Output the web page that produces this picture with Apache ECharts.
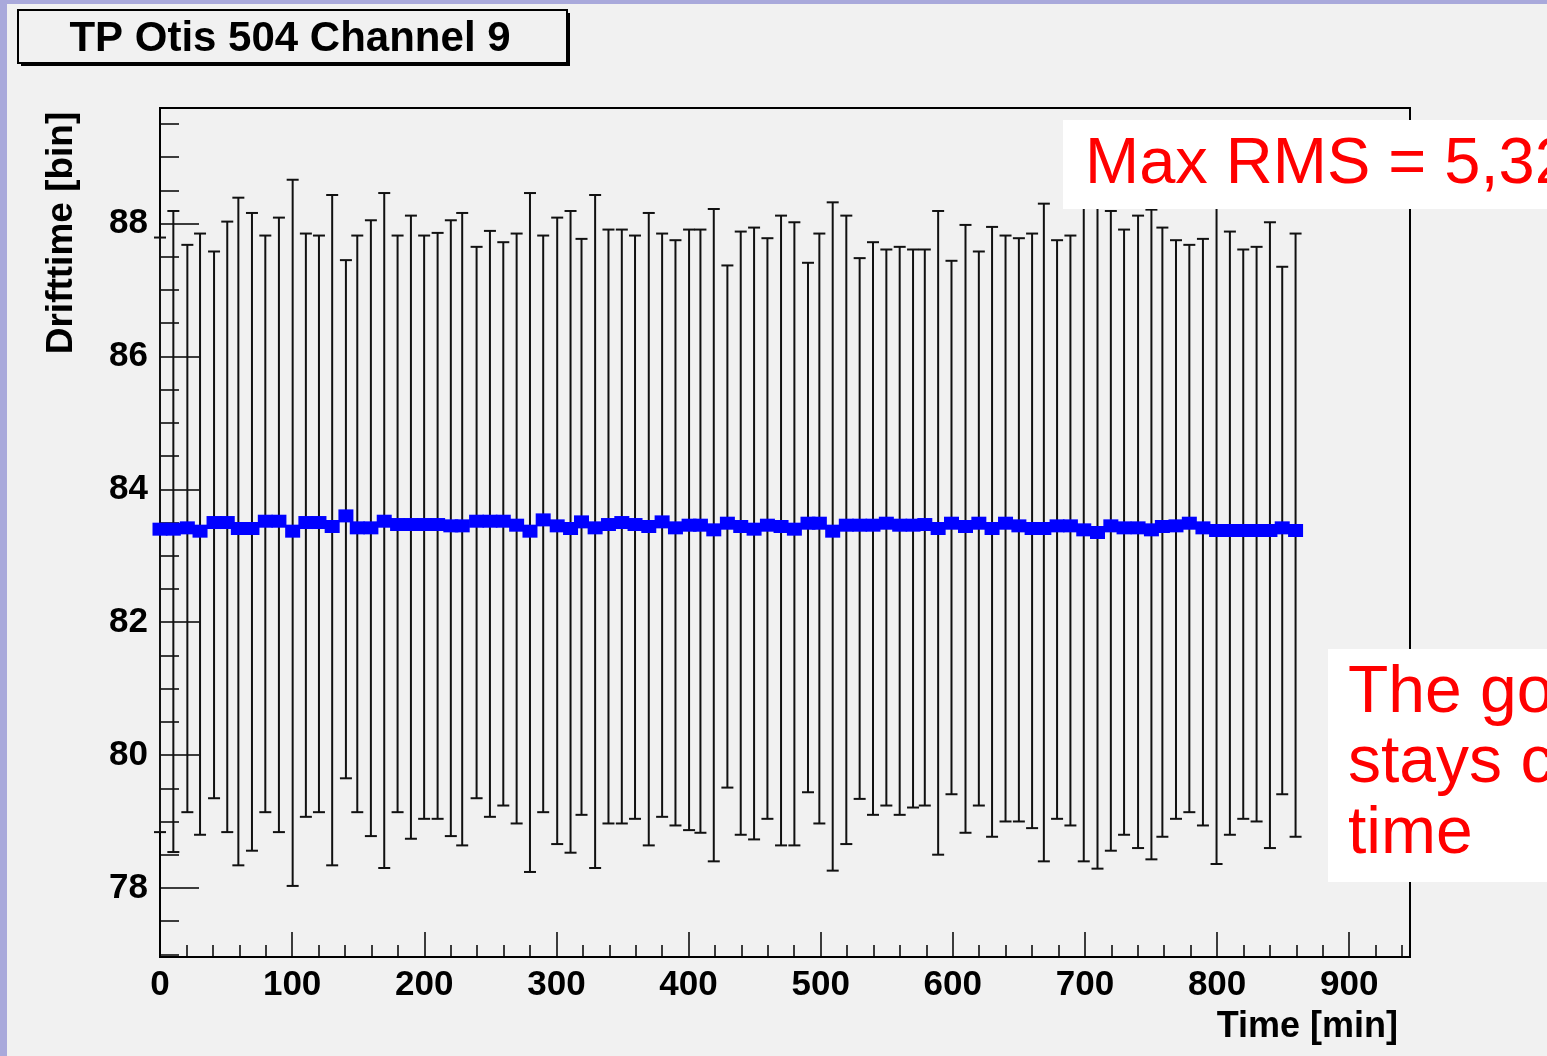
<!DOCTYPE html>
<html lang="en">
<head>
    <meta charset="UTF-8">
    <title>TP Otis 504 Channel 9</title>
    <style>
        html, body { margin: 0; padding: 0; background: #f1f1f1; }
    </style>
</head>
<body>
    <div id="container" style="width: 1547px;height: 1056px"></div>
<script src="https://cdn.jsdelivr.net/npm/echarts@6/dist/echarts.min.js"></script>
<script>
// time of each measurement [min]
var times = [0, 10.1, 20.7, 30.3, 40.9, 50.9, 59.3, 69.6, 79.7, 90.0, 100.4, 110.4, 120.3, 130.3, 140.7, 149.3, 159.6, 169.7, 179.8, 189.9,
    199.9, 210.1, 220.1, 228.7, 239.6, 249.7, 259.8, 269.9, 280.0, 290.0, 300.6, 310.7, 319.0, 329.3, 339.4, 349.5, 359.5, 369.9, 380.0, 390.1,
    400.4, 409.0, 419.1, 429.4, 439.5, 449.6, 459.7, 470.0, 480.1, 490.4, 499.0, 509.1, 519.4, 529.5, 539.6, 549.7, 559.8, 569.9, 578.8, 588.9,
    599.0, 609.6, 619.7, 629.7, 639.9, 650.0, 660.0, 668.9, 678.9, 689.0, 699.1, 709.5, 719.6, 729.6, 740.2, 750.3, 758.6, 768.9, 779.0, 789.3,
    799.6, 809.7, 819.8, 829.9, 840.0, 849.3, 859.4];

// mean drifttime [bin]
var meanDrift = [83.40, 83.40, 83.42, 83.37, 83.50, 83.50, 83.41, 83.41, 83.52, 83.52, 83.37, 83.50, 83.50, 83.44, 83.60, 83.42, 83.42, 83.52, 83.47, 83.47,
    83.47, 83.47, 83.45, 83.45, 83.52, 83.52, 83.52, 83.46, 83.37, 83.54, 83.45, 83.41, 83.51, 83.42, 83.47, 83.50, 83.47, 83.44, 83.51, 83.42,
    83.46, 83.46, 83.39, 83.49, 83.44, 83.40, 83.46, 83.44, 83.40, 83.49, 83.49, 83.37, 83.46, 83.46, 83.46, 83.49, 83.46, 83.46, 83.47, 83.41,
    83.49, 83.44, 83.49, 83.41, 83.49, 83.45, 83.41, 83.41, 83.45, 83.45, 83.39, 83.35, 83.45, 83.42, 83.42, 83.39, 83.44, 83.45, 83.49, 83.42,
    83.38, 83.38, 83.38, 83.38, 83.38, 83.42, 83.38];

// upper end of the error bar (mean + RMS)
var barTop = [87.79, 88.19, 87.68, 87.85, 87.58, 88.03, 88.39, 88.16, 87.82, 88.09, 88.66, 87.85, 87.82, 88.43, 87.45, 87.82, 88.05, 88.46, 87.82, 88.12,
    87.82, 87.86, 88.05, 88.16, 87.65, 87.89, 87.72, 87.85, 88.46, 87.82, 88.09, 88.19, 87.77, 88.43, 87.91, 87.91, 87.82, 88.16, 87.85, 87.75,
    87.91, 87.91, 88.22, 87.37, 87.88, 87.94, 87.78, 88.12, 88.02, 87.41, 87.85, 88.32, 88.12, 87.48, 87.72, 87.61, 87.65, 87.61, 87.61, 88.19,
    87.44, 87.98, 87.58, 87.95, 87.82, 87.78, 87.85, 88.30, 87.75, 87.82, 88.35, 88.38, 88.19, 87.91, 88.12, 88.21, 87.94, 87.75, 87.68, 87.77,
    88.36, 87.88, 87.61, 87.65, 88.02, 87.35, 87.85];

// lower end of the error bar (mean - RMS)
var barBottom = [78.84, 78.54, 79.14, 78.80, 79.35, 78.84, 78.34, 78.56, 79.14, 78.84, 78.03, 79.07, 79.14, 78.34, 79.65, 79.14, 78.78, 78.30, 79.14, 78.74,
    79.04, 79.04, 78.78, 78.64, 79.35, 79.07, 79.24, 78.97, 78.24, 79.14, 78.66, 78.53, 79.10, 78.30, 78.97, 78.97, 79.04, 78.64, 79.07, 78.94,
    78.87, 78.83, 78.40, 79.51, 78.80, 78.73, 79.04, 78.64, 78.64, 79.44, 78.97, 78.26, 78.66, 79.34, 79.10, 79.24, 79.10, 79.21, 79.24, 78.50,
    79.41, 78.83, 79.24, 78.77, 79.00, 79.00, 78.90, 78.40, 79.04, 78.94, 78.40, 78.29, 78.56, 78.80, 78.60, 78.43, 78.77, 79.04, 79.14, 78.94,
    78.36, 78.80, 79.04, 79.00, 78.60, 79.41, 78.77];

// axis ticks
var yMajorTicks = [78, 80, 82, 84, 86, 88];
var yMinorTicks = [77, 77.5, 78.5, 79, 79.5, 80.5, 81, 81.5, 82.5, 83, 83.5, 84.5, 85, 85.5, 86.5, 87, 87.5, 88.5, 89, 89.5];

var font = "'Liberation Sans', Arial, Helvetica, sans-serif";

var sensor = echarts.init(document.getElementById('container'));

var barData = times.map(function (t, i) {
    return [t, barBottom[i], barTop[i]];
});
var meanData = times.map(function (t, i) {
    return [t, meanDrift[i]];
});

sensor.setOption({
    backgroundColor: '#f1f1f1',
    animation: false,
    grid: {
        show: true,
        left: 160,
        top: 108,
        width: 1250,
        height: 849,
        borderColor: '#000',
        borderWidth: 2,
        backgroundColor: 'transparent'
    },
    xAxis: {
        type: 'value',
        min: 0,
        max: 946,
        interval: 100,
        axisLine: { show: false },
        axisTick: { inside: true, length: 25, lineStyle: { color: '#000', width: 1.5 } },
        minorTick: { show: true, splitNumber: 5, length: 12, lineStyle: { color: '#000', width: 1.5 } },
        splitLine: { show: false },
        axisLabel: {
            showMaxLabel: false,
            margin: 11,
            color: '#000',
            fontFamily: font,
            fontWeight: 'bold',
            fontSize: 35
        }
    },
    yAxis: [
        {
            type: 'value',
            min: 76.96,
            max: 89.74,
            axisLine: { show: false },
            axisTick: { inside: true, length: 39, customValues: yMajorTicks, lineStyle: { color: '#000', width: 1.5 } },
            splitLine: { show: false },
            axisLabel: {
                customValues: yMajorTicks,
                margin: 12,
                color: '#000',
                fontFamily: font,
                fontWeight: 'bold',
                fontSize: 35
            }
        },
        {
            // minor ticks on the left edge
            type: 'value',
            position: 'right',
            offset: -1250,
            min: 76.96,
            max: 89.74,
            axisLine: { show: false },
            axisTick: { inside: false, length: 19, customValues: yMinorTicks, lineStyle: { color: '#000', width: 1.5 } },
            splitLine: { show: false },
            axisLabel: { show: false }
        }
    ],
    series: [
        {
            type: 'custom',
            name: 'RMS',
            data: barData,
            z: 2,
            renderItem: function (params, api) {
                var lo = api.coord([api.value(0), api.value(1)]);
                var hi = api.coord([api.value(0), api.value(2)]);
                var cap = 6;
                var st = { stroke: '#111', lineWidth: 2 };
                return {
                    type: 'group',
                    children: [
                        { type: 'line', shape: { x1: lo[0], y1: lo[1], x2: hi[0], y2: hi[1] }, style: st },
                        { type: 'line', shape: { x1: hi[0] - cap, y1: hi[1], x2: hi[0] + cap, y2: hi[1] }, style: st },
                        { type: 'line', shape: { x1: lo[0] - cap, y1: lo[1], x2: lo[0] + cap, y2: lo[1] }, style: st }
                    ]
                };
            }
        },
        {
            type: 'scatter',
            name: 'Drifttime',
            data: meanData,
            z: 3,
            symbol: 'rect',
            symbolSize: [15, 13],
            itemStyle: { color: '#0000ff', opacity: 1 }
        }
    ],
    graphic: [
        { type: 'rect', shape: { x: 0, y: 0, width: 1547, height: 4 }, style: { fill: '#a9a9db' } },
        { type: 'rect', shape: { x: 0, y: 0, width: 7, height: 1056 }, style: { fill: '#a9a9db' } },
        // title box with shadow
        { type: 'rect', shape: { x: 21, y: 13, width: 549, height: 53 }, style: { fill: '#000' } },
        { type: 'rect', shape: { x: 18, y: 10, width: 549, height: 53 }, style: { fill: '#f1f1f1', stroke: '#000', lineWidth: 2 } },
        {
            type: 'text', x: 290, y: 39,
            style: { text: 'TP Otis 504 Channel 9', font: 'bold 42px ' + font, fill: '#000', textAlign: 'center', textVerticalAlign: 'middle' }
        },
        {
            type: 'text', x: 62, y: 233, rotation: Math.PI / 2,
            style: { text: 'Drifttime [bin]', font: 'bold 37px ' + font, fill: '#000', textAlign: 'center', textVerticalAlign: 'middle' }
        },
        {
            type: 'text', x: 1398, y: 1027,
            style: { text: 'Time [min]', font: 'bold 36px ' + font, fill: '#000', textAlign: 'right', textVerticalAlign: 'middle' }
        },
        // annotations
        { type: 'rect', z: 10, shape: { x: 1063, y: 120, width: 484, height: 89 }, style: { fill: '#fff' } },
        {
            type: 'text', z: 11, x: 1085, y: 165,
            style: { text: 'Max RMS = 5,32', font: '65px ' + font, fill: '#ff0000', textAlign: 'left', textVerticalAlign: 'middle' }
        },
        { type: 'rect', z: 10, shape: { x: 1328, y: 649, width: 219, height: 233 }, style: { fill: '#fff' } },
        {
            type: 'text', z: 11, x: 1348, y: 694,
            style: { text: 'The go', font: '66px ' + font, fill: '#ff0000', textAlign: 'left', textVerticalAlign: 'middle' }
        },
        {
            type: 'text', z: 11, x: 1348, y: 764,
            style: { text: 'stays c', font: '66px ' + font, fill: '#ff0000', textAlign: 'left', textVerticalAlign: 'middle' }
        },
        {
            type: 'text', z: 11, x: 1348, y: 835,
            style: { text: 'time', font: '66px ' + font, fill: '#ff0000', textAlign: 'left', textVerticalAlign: 'middle' }
        }
    ]
});
</script>
</body>
</html>
